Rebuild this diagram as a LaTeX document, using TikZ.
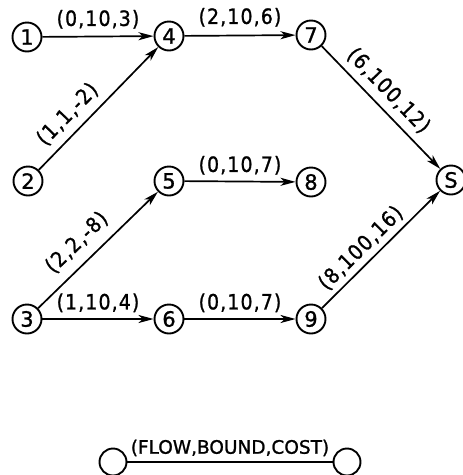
\documentclass[tikz,border=0pt]{standalone}
\usepackage{fontspec}
\usepackage{graphicx}
\setmainfont{DejaVu Sans}
\usetikzlibrary{arrows.meta}
\newfontfamily\labfont[LetterSpace=6,FakeBold=1.2]{DejaVu Sans}
\newfontfamily\vtxfont[FakeBold=1.2]{DejaVu Sans}
\newcommand{\elab}[1]{\scalebox{0.9}[1]{#1}}
\begin{document}
\begin{tikzpicture}[x=1pt,y=-1pt,
  vtx/.style={circle,draw,line width=1.9pt,minimum size=29pt,inner sep=0pt,font=\vtxfont\fontsize{21}{21}\selectfont},
  arc/.style={line width=1.7pt,-{Stealth[length=15pt,width=8pt,inset=4pt]}},
  lab/.style={inner sep=0pt,font=\labfont\fontsize{21}{21}\selectfont},
  leg/.style={inner sep=0pt,font=\vtxfont\fontsize{18.5}{18.5}\selectfont}]
\useasboundingbox (0,0) rectangle (463,475);
\node[vtx] (n1) at (27,37) {1};
\node[vtx] (n4) at (169,36) {4};
\node[vtx] (n7) at (311,35) {7};
\node[vtx] (n2) at (28,181) {2};
\node[vtx] (n5) at (169,181) {5};
\node[vtx] (n8) at (311,182) {8};
\node[vtx] (nS) at (451,180) {S};
\node[vtx] (n3) at (27,319) {3};
\node[vtx] (n6) at (169,319) {6};
\node[vtx] (n9) at (311,319) {9};
\draw[arc] (n1) -- node[lab,midway,above=7pt] {\elab{(0,10,3)}} (n4);
\draw[arc] (n4) -- node[lab,midway,above=8pt] {\elab{(2,10,6)}} (n7);
\draw[arc] (n2) -- node[lab,pos=0.35,sloped,above=8pt] {\elab{(1,1,-2)}} (n4);
\draw[arc] (n7) -- node[lab,pos=0.46,sloped,above=7pt] {\elab{(6,100,12)}} (nS);
\draw[arc] (n5) -- node[lab,midway,above=6pt] {\elab{(0,10,7)}} (n8);
\draw[arc] (n3) -- node[lab,pos=0.44,sloped,above=10pt] {\elab{(2,2,-8)}} (n5);
\draw[arc] (n9) -- node[lab,pos=0.42,sloped,above=5pt] {\elab{(8,100,16)}} (nS);
\draw[arc] (n3) -- node[lab,midway,above=6pt] {\elab{(1,10,4)}} (n6);
\draw[arc] (n6) -- node[lab,midway,above=6pt] {\elab{(0,10,7)}} (n9);
\node[vtx,minimum size=27pt] (la) at (113,462) {};
\node[vtx,minimum size=27pt] (lb) at (347,462) {};
\draw[line width=1.7pt] (la) -- node[leg,midway,above=5pt] {(FLOW,BOUND,COST)} (lb);
\end{tikzpicture}
\end{document}
